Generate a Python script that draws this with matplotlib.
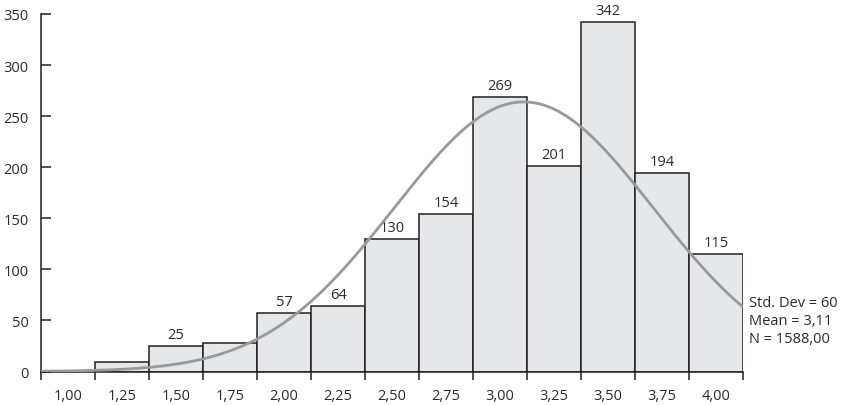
import numpy as np
import matplotlib.pyplot as plt

plt.rcParams['font.family'] = ['Open Sans', 'DejaVu Sans']

# histogram bins (centre values) and counts
centres = [1.00, 1.25, 1.50, 1.75, 2.00, 2.25, 2.50, 2.75, 3.00, 3.25, 3.50, 3.75, 4.00]
counts = [0, 9, 25, 28, 57, 64, 130, 154, 269, 201, 342, 194, 115]
show_label = [False, False, True, False, True, True, True, True, True, True, True, True, True]
tick_labels = ['1,00', '1,25', '1,50', '1,75', '2,00', '2,25', '2,50', '2,75',
               '3,00', '3,25', '3,50', '3,75', '4,00']

std_dev = 0.60
mean = 3.11
n_total = 1588
bin_width = 0.25

ink = '#231f20'
text_col = '#2b2b2b'
fs = 10.5

fig = plt.figure(figsize=(8.46, 4.06), dpi=100)
ax = fig.add_axes([41 / 846, 33.5 / 406, 702 / 846, 357.5 / 406])

ax.bar(centres, counts, width=bin_width, color='#e6e7e8', edgecolor=ink,
       linewidth=1.1, zorder=2)

for c, v, lab in zip(centres, counts, show_label):
    if lab:
        ax.annotate(str(v), (c, v), xytext=(0, 3), textcoords='offset points',
                    ha='center', va='bottom', fontsize=fs, color=text_col)

# normal curve scaled to the counts
lo = centres[0] - bin_width / 2
hi = centres[-1] + bin_width / 2
xs = np.linspace(lo, hi, 300)
ys = n_total * bin_width / (std_dev * np.sqrt(2 * np.pi)) * np.exp(-0.5 * ((xs - mean) / std_dev) ** 2)
ax.plot(xs, ys, color='#999999', linewidth=2.0, zorder=3, solid_capstyle='butt')

ax.set_xlim(lo, hi)
ax.set_ylim(0, 350)

# ticks at bin edges, labels at bin centres
edges = [lo + i * bin_width for i in range(len(centres) + 1)]
ax.set_xticks(edges)
ax.set_xticklabels([])
ax.set_xticks(centres, minor=True)
ax.set_xticklabels(tick_labels, minor=True)
ax.tick_params(axis='x', which='major', direction='out', length=6, width=1.1, color=ink)
ax.tick_params(axis='x', which='minor', length=0, pad=12, labelsize=fs, labelcolor=text_col)

ax.set_yticks(range(0, 351, 50))
ax.tick_params(axis='y', direction='in', length=7, width=1.1, color=ink,
               pad=9, labelsize=fs, labelcolor=text_col)

for s in ['top', 'right']:
    ax.spines[s].set_visible(False)
for s in ['left', 'bottom']:
    ax.spines[s].set_color(ink)
    ax.spines[s].set_linewidth(1.1)

stats = f'Std. Dev = {int(std_dev * 100)}\nMean = {mean:.2f}\nN = {n_total:.2f}'
stats = stats.replace('3.11', '3,11').replace('.00', ',00')
ax.text(1.008, 50 / 350, stats, transform=ax.transAxes, ha='left', va='center',
        fontsize=fs, color=text_col, linespacing=1.25)

fig.savefig('out.png', dpi=100)
